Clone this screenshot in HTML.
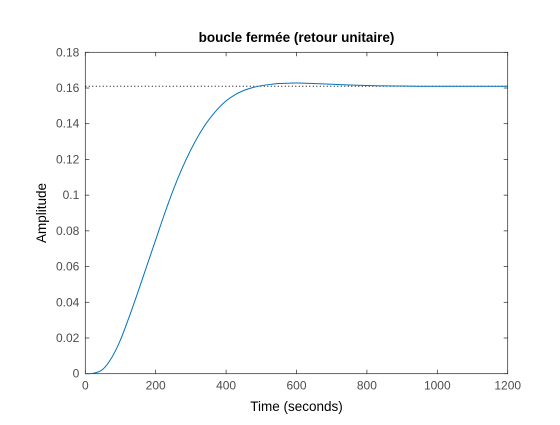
<!DOCTYPE html>
<html><head><meta charset="utf-8"><style>
body{margin:0;background:#fff}
svg text{font-family:"Liberation Sans",Arial,sans-serif}
</style></head><body>
<svg id="chart" width="560" height="420" xmlns="http://www.w3.org/2000/svg">
<rect width="560" height="420" fill="#fff"/>
<g id="plot"></g>
</svg>
<script>
const times=[0,25,50,75,100,125,150,175,200,225,250,275,300,325,350,375,400,425,450,475,500,525,550,575,600,625,650,675,700,750,800,850,900,950,1000,1050,1100,1150,1200];
const amplitudes=[0,0.0003,0.0025,0.009,0.019,0.032,0.046,0.0605,0.075,0.0895,0.103,0.115,0.1255,0.1345,0.142,0.148,0.1528,0.1562,0.1586,0.1602,0.1613,0.1620,0.1625,0.1627,0.1628,0.1627,0.1625,0.1623,0.1621,0.1617,0.1614,0.1612,0.1611,0.161,0.161,0.161,0.161,0.161,0.161];
const steadyState=0.161;
const xTicks=[0,200,400,600,800,1000,1200];
const yTicks=[0,0.02,0.04,0.06,0.08,0.1,0.12,0.14,0.16,0.18];
const yTickLabels=["0","0.02","0.04","0.06","0.08","0.1","0.12","0.14","0.16","0.18"];

const L=85.3,R=507.7,T=52.3,B=373.7;
const xs=v=>L+(v/1200)*(R-L);
const ys=v=>B-(v/0.18)*(B-T);
const NS="http://www.w3.org/2000/svg";
const g=document.getElementById('plot');
function mk(tag,attrs,parent){const e=document.createElementNS(NS,tag);for(const k in attrs)e.setAttribute(k,attrs[k]);(parent||g).appendChild(e);return e;}

const box=mk('rect',{x:L,y:T,width:R-L,height:B-T,fill:'none',stroke:'#262626','stroke-width':0.7});



xTicks.forEach(v=>{
  const x=xs(v);
  const t1=mk('line',{x1:x,x2:x,y1:B,y2:B-4,stroke:'#262626','stroke-width':0.7});
  
  
  const t2=mk('line',{x1:x,x2:x,y1:T,y2:T+4,stroke:'#262626','stroke-width':0.7});
  
  
  const tx=mk('text',{x:x,y:B+16,'text-anchor':'middle','font-size':12,fill:'#4d4d4d'});
  tx.textContent=String(v);
  
  
});
yTicks.forEach((v,i)=>{
  const y=ys(v);
  const t1=mk('line',{x1:L,x2:L+4,y1:y,y2:y,stroke:'#262626','stroke-width':0.7});
  
  
  const t2=mk('line',{x1:R,x2:R-4,y1:y,y2:y,stroke:'#262626','stroke-width':0.7});
  
  
  const tx=mk('text',{x:L-6,y:y+4,'text-anchor':'end','font-size':12,fill:'#4d4d4d'});
  tx.textContent=yTickLabels[i];
  
  
});

const ss=mk('line',{x1:L,x2:R,y1:ys(steadyState),y2:ys(steadyState),stroke:'#000','stroke-width':1,'stroke-dasharray':'1 2.5'});



const P=times.map((t,i)=>[xs(t),ys(amplitudes[i])]);
let d='M'+P[0][0]+','+P[0][1];
for(let i=0;i<P.length-1;i++){
  const p0=P[i-1]||P[i],p1=P[i],p2=P[i+1],p3=P[i+2]||P[i+1];
  const c1=[p1[0]+(p2[0]-p0[0])/6,p1[1]+(p2[1]-p0[1])/6];
  const c2=[p2[0]-(p3[0]-p1[0])/6,p2[1]-(p3[1]-p1[1])/6];
  d+=` C${c1[0]},${c1[1]} ${c2[0]},${c2[1]} ${p2[0]},${p2[1]}`;
}
const line=mk('path',{d:d,fill:'none',stroke:'#0072bd','stroke-width':1});



const title=mk('text',{x:(L+R)/2,y:42,'text-anchor':'middle','font-size':13.5,'font-weight':'bold',fill:'#000'});
title.textContent='boucle fermée (retour unitaire)';



const xl=mk('text',{x:(L+R)/2,y:411,'text-anchor':'middle','font-size':13.5,fill:'#000'});
xl.textContent='Time (seconds)';



const yl=mk('text',{x:0,y:0,'text-anchor':'middle','font-size':13.5,fill:'#000',transform:`translate(46,${(T+B)/2}) rotate(-90)`});
yl.textContent='Amplitude';


</script>
</body></html>
